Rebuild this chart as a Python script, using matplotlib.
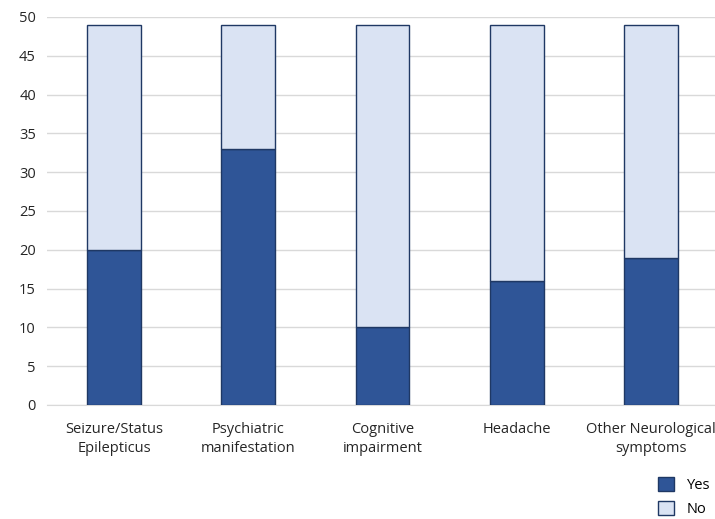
import matplotlib.pyplot as plt

# Données du graphique
categories = ['Seizure/Status\nEpilepticus', 'Psychiatric\nmanifestation', 'Cognitive\nimpairment',
              'Headache', 'Other Neurological\nsymptoms']
yes_values = [20, 33, 10, 16, 19]
no_values = [29, 16, 39, 33, 30]

plt.rcParams['font.family'] = ['Open Sans', 'DejaVu Sans']

fig = plt.figure(figsize=(7.15, 5.19), dpi=100)
ax = fig.add_axes([47 / 715, 1 - 405 / 519, (718 - 47) / 715, (405 - 17) / 519])

x = range(len(categories))
b1 = ax.bar(x, yes_values, width=0.4, color='#2f5597', edgecolor='#1f3864', linewidth=1, label='Yes', zorder=3)
b2 = ax.bar(x, no_values, width=0.4, bottom=yes_values, color='#dae3f3', edgecolor='#1f3864', linewidth=1,
            label='No', zorder=3)

ax.set_xlim(-0.5, 4.5)
ax.set_ylim(0, 50)
ax.set_yticks(range(0, 51, 5))
ax.set_xticks(list(x))
ax.set_xticklabels(categories, fontsize=10.5, color='#262626', linespacing=1.35)
ax.tick_params(axis='y', labelsize=10.5, colors='#262626', length=0, pad=8)
ax.tick_params(axis='x', length=0, pad=12)
ax.grid(axis='y', color='#d9d9d9', linewidth=1, zorder=0)
for s in ['top', 'right', 'left']:
    ax.spines[s].set_visible(False)
ax.spines['bottom'].set_color('#d9d9d9')

fig.legend(handles=[b1, b2], loc='lower right', bbox_to_anchor=(1.012, -0.022), frameon=False,
           fontsize=10.5, handlelength=1.1, handleheight=1.1, labelspacing=0.55, handletextpad=0.9)

fig.savefig('out.png', dpi=100)
